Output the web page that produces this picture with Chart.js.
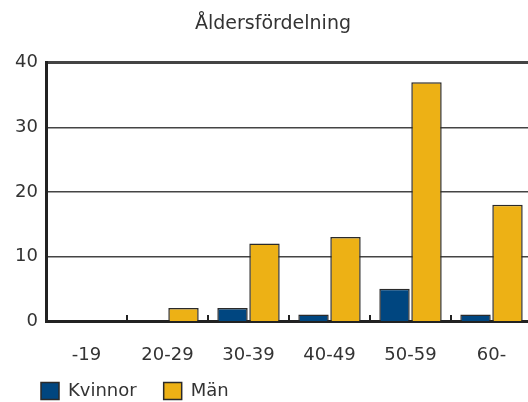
<!DOCTYPE html>
<html>
<head>
<meta charset="utf-8">
<script src="https://cdn.jsdelivr.net/npm/chart.js@4.4.0/dist/chart.umd.min.js"></script>
<style>
html,body{margin:0;padding:0;overflow:hidden;background:#fff;}
#wrap{width:544px;height:410px;position:relative;}
</style>
</head>
<body>
<div id="wrap"><canvas id="c"></canvas></div>
<script>
const categories = ['-19', '20-29', '30-39', '40-49', '50-59', '60-'];
const kvinnor = [0, 0, 2, 1, 5, 1];
const man = [0, 2, 12, 13, 37, 18];
const yTicks = [0, 10, 20, 30, 40];
const titleText = 'Åldersfördelning';
const seriesNames = ['Kvinnor', 'Män'];

const FONT = "'DejaVu Sans', 'Liberation Sans', sans-serif";

const boundaryTicks = {
  id: 'boundaryTicks',
  afterDatasetsDraw(chart) {
    const x = chart.scales.x;
    const ctx = chart.ctx;
    const bottom = chart.chartArea.bottom;
    ctx.save();
    ctx.strokeStyle = '#222';
    ctx.lineWidth = 2;
    for (let i = 1; i < categories.length; i++) {
      const px = Math.round((x.getPixelForValue(i - 1) + x.getPixelForValue(i)) / 2);
      ctx.beginPath();
      ctx.moveTo(px, bottom);
      ctx.lineTo(px, bottom - 6);
      ctx.stroke();
    }
    ctx.restore();
  }
};

new Chart(document.getElementById('c'), {
  type: 'bar',
  data: {
    labels: categories,
    datasets: [
      { label: seriesNames[0], data: kvinnor, backgroundColor: '#004680', borderColor: '#2a2a2a', borderWidth: 1.5 },
      { label: seriesNames[1], data: man, backgroundColor: '#EDB115', borderColor: '#2a2a2a', borderWidth: 1.5 }
    ]
  },
  options: {
    responsive: true,
    maintainAspectRatio: false,
    animation: false,
    devicePixelRatio: 1,
    categoryPercentage: 0.79,
    barPercentage: 0.95,
    layout: { padding: { left: 14, right: 12, top: 0, bottom: 0 } },
    plugins: {
      title: {
        display: true,
        text: titleText,
        color: '#333',
        font: { family: FONT, size: 19, weight: 'normal' },
        padding: { top: 13, bottom: 27 }
      },
      legend: {
        position: 'bottom',
        align: 'start',
        labels: {
          color: '#333',
          font: { family: FONT, size: 18 },
          boxWidth: 18,
          boxHeight: 17,
          padding: 27,
          useBorderRadius: false
        }
      },
      tooltip: { enabled: false }
    },
    scales: {
      x: {
        grid: { display: false },
        border: { display: true, color: '#222', width: 3 },
        ticks: { color: '#333', font: { family: FONT, size: 18 }, padding: 16 },
        afterFit(s) {
          s.height = 34;
          s._computeLabelArea = () => undefined;
        }
      },
      y: {
        min: 0, max: 40,
        afterBuildTicks(s) { s.ticks = yTicks.map(v => ({ value: v })); },
        grid: {
          color: '#444',
          lineWidth: (c) => (c.tick && c.tick.value === 40 ? 3 : (c.tick && c.tick.value === 0 ? 0 : 1.5)),
          drawTicks: false
        },
        border: { display: true, color: '#222', width: 3 },
        ticks: { color: '#333', font: { family: FONT, size: 18 }, padding: 8 },
        afterFit(s) { s.width = 32; }
      }
    }
  },
  plugins: [boundaryTicks]
});
</script>
</body>
</html>
